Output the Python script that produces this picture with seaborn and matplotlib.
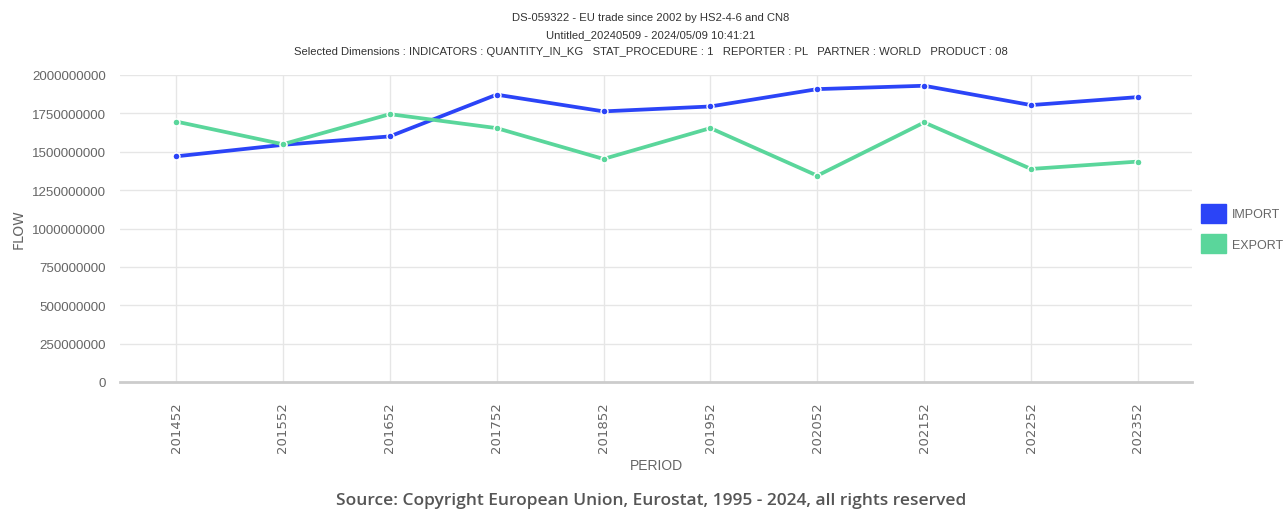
import matplotlib
matplotlib.use("Agg")
import matplotlib.pyplot as plt
import seaborn as sns
import pandas as pd
from matplotlib.patches import Patch

periods = ["201452", "201552", "201652", "201752", "201852",
           "201952", "202052", "202152", "202252", "202352"]
import_vals = [1470e6, 1545e6, 1600e6, 1872e6, 1763e6,
               1795e6, 1908e6, 1930e6, 1804e6, 1856e6]
export_vals = [1697e6, 1549e6, 1745e6, 1654e6, 1453e6,
               1654e6, 1344e6, 1691e6, 1388e6, 1436e6]
series_names = ["IMPORT", "EXPORT"]
series_colors = ["#2b44f7", "#5ad69b"]
y_ticks = [0, 250e6, 500e6, 750e6, 1000e6, 1250e6, 1500e6, 1750e6, 2000e6]

title_lines = [
    "DS-059322 - EU trade since 2002 by HS2-4-6 and CN8",
    "Untitled_20240509 - 2024/05/09 10:41:21",
    "Selected Dimensions : INDICATORS : QUANTITY_IN_KG   STAT_PROCEDURE : 1   REPORTER : PL   PARTNER : WORLD   PRODUCT : 08",
]
source_text = "Source: Copyright European Union, Eurostat, 1995 - 2024, all rights reserved"

df = pd.DataFrame({
    "PERIOD": periods * 2,
    "FLOW": import_vals + export_vals,
    "series": [series_names[0]] * len(periods) + [series_names[1]] * len(periods),
})
df["x"] = [periods.index(p) for p in df["PERIOD"]]

sns.set_theme(style="white")
narrow = ["Liberation Sans", "DejaVu Sans"]
plt.rcParams["font.family"] = ["Liberation Sans", "DejaVu Sans"]

fig = plt.figure(figsize=(12.86, 5.10), dpi=100)
ax = fig.add_axes([120 / 1286, 1 - 383 / 510, (1192 - 120) / 1286, (383 - 76) / 510])

palette = dict(zip(series_names, series_colors))
sns.lineplot(data=df, x="x", y="FLOW", hue="series", palette=palette, ax=ax,
             linewidth=2.7, marker="o", markersize=5.0, markeredgecolor="white",
             markeredgewidth=1.0, legend=False, sort=False)

ax.set_xlim(-0.524, 9.506)
ax.set_ylim(0, 2000e6)
ax.set_yticks(y_ticks)
ax.set_yticklabels([f"{int(v)}" for v in y_ticks], family=narrow, fontsize=9.6, color="#666666")
ax.set_xticks(range(len(periods)))
ax.set_xticklabels(periods, rotation=90, fontsize=9.5, color="#666666", family=["DejaVu Sans"])

ax.grid(True, color="#e6e6e6", linewidth=1.0)
ax.set_axisbelow(True)
for s in ["top", "right", "left"]:
    ax.spines[s].set_visible(False)
ax.spines["bottom"].set_color("#cccccc")
ax.spines["bottom"].set_linewidth(2.0)
ax.tick_params(axis="y", length=8, color="#cccccc", pad=2, width=1)
ax.tick_params(axis="x", length=10, color="#e6e6e6", pad=4, width=1)

ax.set_xlabel("PERIOD", family=narrow, fontsize=10, color="#666666", labelpad=4)
ax.set_ylabel("FLOW", family=["DejaVu Sans"], fontsize=10, color="#666666")
ax.yaxis.set_label_coords(-0.088, 0.5)

for i, (line, yp) in enumerate(zip(title_lines, [18, 35, 52])):
    fig.text(651 / 1286, 1 - yp / 510, line, ha="center", va="center",
             family=narrow, fontsize=8.1, color="#333333")

handles = [Patch(facecolor=c, edgecolor=c) for c in series_colors]
fig.legend(handles, series_names, loc="center left", bbox_to_anchor=(1201 / 1286, 1 - 229.5 / 510),
           frameon=False, handlelength=2.0, handleheight=2.0, handletextpad=0.45,
           labelspacing=0.9, borderpad=0, borderaxespad=0,
           prop={"family": narrow, "size": 9}, labelcolor="#666666")

fig.text(651 / 1286, 1 - 501 / 510, source_text, ha="center", va="center",
         family=["Open Sans", "DejaVu Sans"], fontsize=12.5, fontweight="semibold",
         color="#555555")

fig.savefig("out.png", dpi=100)
